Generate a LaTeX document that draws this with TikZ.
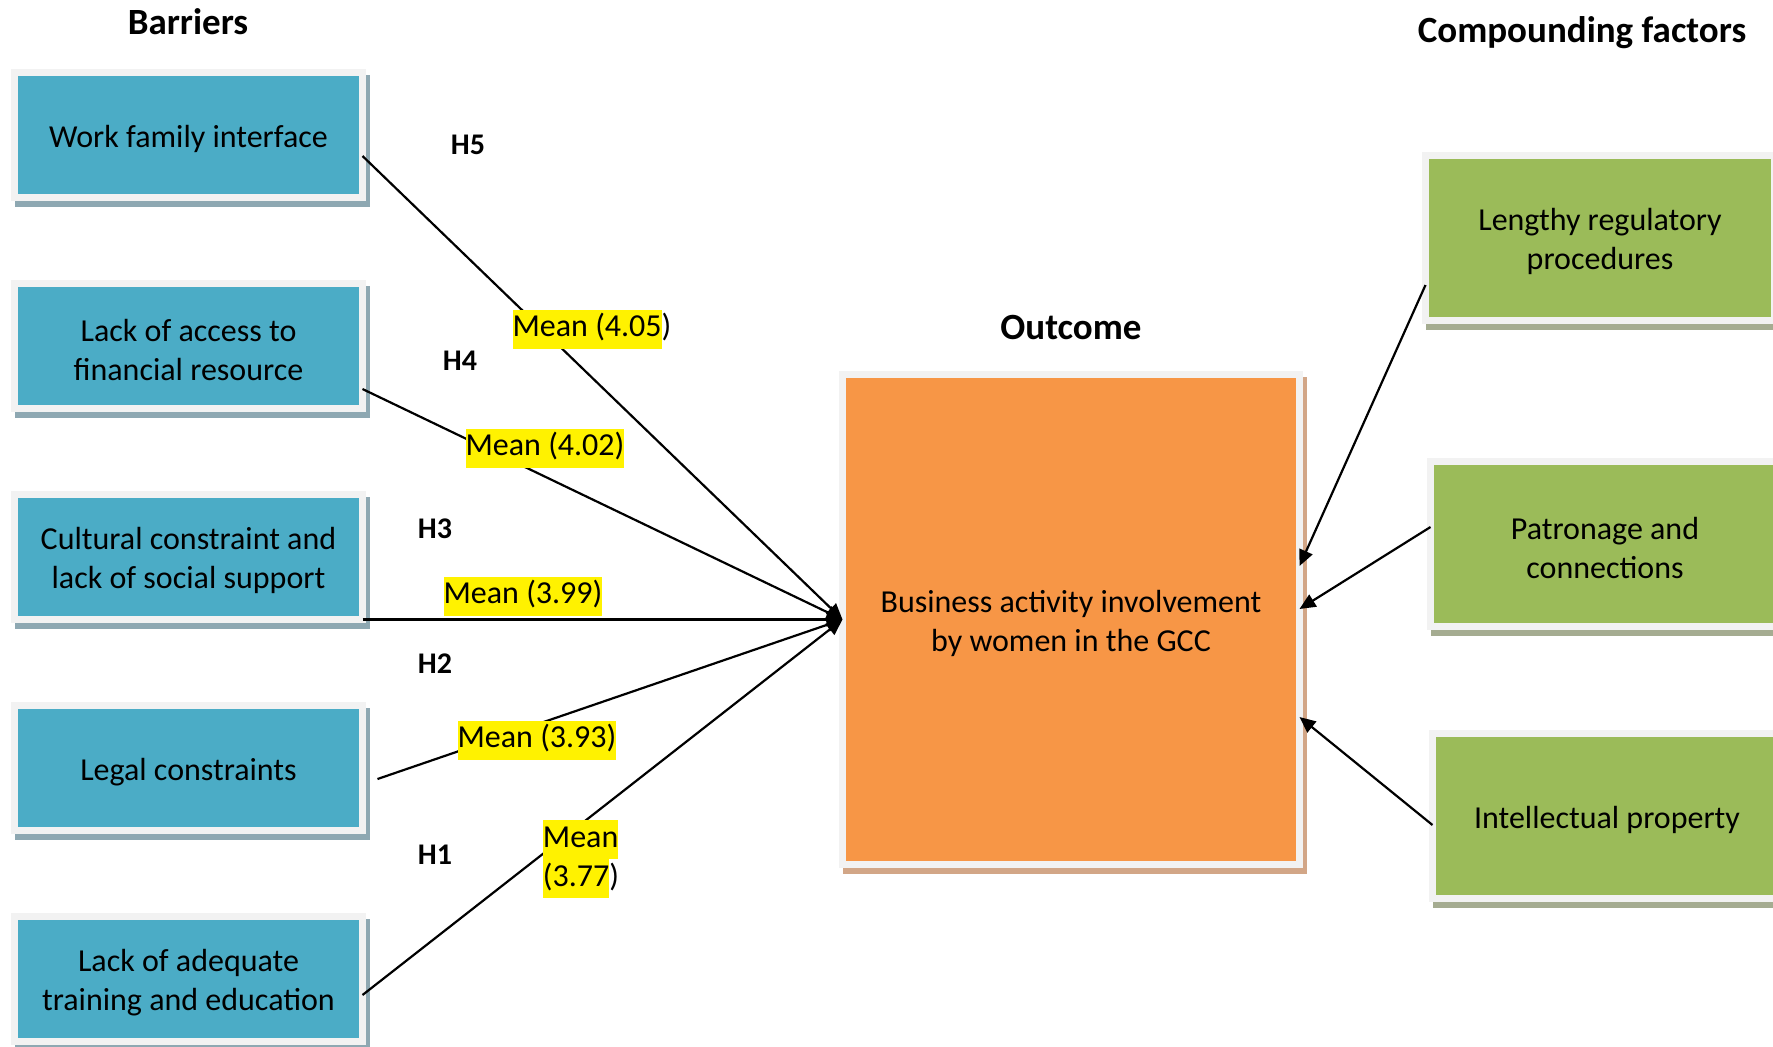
\documentclass[tikz,border=0pt]{standalone}
\usepackage{fontspec}
\setmainfont{Carlito}
\usetikzlibrary{arrows.meta,shadows}
\definecolor{barblue}{HTML}{4BACC6}
\definecolor{facgreen}{HTML}{9BBB59}
\definecolor{outorange}{HTML}{F79646}
\definecolor{framegray}{HTML}{F2F2F2}
\definecolor{blueshadow}{RGB}{142,168,178}
\definecolor{greenshadow}{RGB}{165,172,145}
\definecolor{orangeshadow}{RGB}{210,166,135}
\setlength{\fboxsep}{0pt}
\newcommand{\hlmean}[1]{\colorbox{yellow}{\strut #1}}

\begin{document}
\begin{tikzpicture}[x=0.5pt, y=-0.5pt,
    txt/.style={font=\fontsize{16}{19.5}\selectfont},
    hyp/.style={font=\fontsize{15}{18}\selectfont\bfseries},
    head/.style={font=\fontsize{18.5}{22}\selectfont\bfseries, anchor=base},
    oneline/.style={execute at begin node={\rule{0pt}{14.8pt}}},
    twoline/.style={execute at begin node={\rule{0pt}{34.3pt}}},
    framebox/.style={txt, draw=framegray, line width=3.5pt, outer sep=0pt, align=center,
      drop shadow={shadow xshift=2pt, shadow yshift=-3pt, opacity=1, fill=#1, draw=#1, line width=3.5pt}},
    barrier/.style={framebox=blueshadow, fill=barblue, minimum width=174pt, minimum height=62.5pt},
    factor/.style={framebox=greenshadow, fill=facgreen, minimum width=174.5pt, minimum height=82.5pt},
    mean/.style={txt, inner sep=0pt, align=left},
    arr/.style={-{Triangle[length=8pt,width=7pt]}, line width=1.1pt}]
  \useasboundingbox (0,0) rectangle (1773,1046);

  \foreach [count=\i] \t/\s in {Work family interface/oneline, Lack of access to\\financial resource/twoline,
      Cultural constraint and\\lack of social support/twoline, Legal constraints/oneline,
      Lack of adequate\\training and education/twoline} {
    \node[barrier, \s] (b\i) at (188.5, {135+211*(\i-1)}) {\t};
  }
  \node[factor, twoline] (f1) at (1600,238) {Lengthy regulatory\\procedures};
  \node[factor, twoline] (f2) at (1605,544) {Patronage and\\connections};
  \node[factor, oneline] (f3) at (1607,816) {Intellectual property};
  \node[framebox=orangeshadow, twoline, fill=outorange, minimum width=228.5pt, minimum height=245pt] (out)
    at (1071,619.5) {Business activity involvement\\by women in the GCC};

  \node[head] (hbar) at (188,34) {Barriers};
  \node[head] (hout) at (1071,339) {Outcome};
  \node[head] (hcomp) at (1582,42) {Compounding factors};

  \draw[arr] ([yshift=-10.5pt]b1.east) -- (out.west);
  \draw[arr] ([yshift=-21.5pt]b2.east) -- (out.west);
  \draw[arr] (b3.south east) -- (out.west);
  \draw[arr] ([xshift=7.5pt,yshift=-5.5pt]b4.east) -- (out.west);
  \draw[arr] ([yshift=-8pt]b5.east) -- (out.west);
  \draw[arr] ([yshift=-23.5pt]f1.west) -- ([yshift=26.75pt]out.east);
  \draw[arr] ([yshift=8.5pt]f2.west) -- ([yshift=5.25pt]out.east);
  \draw[arr] ([yshift=-4.5pt]f3.west) -- ([yshift=-48.75pt]out.east);

  \node[hyp] (h5) at (468,145) {H5};
  \node[hyp] (h4) at (460,361) {H4};
  \node[hyp] (h3) at (435,529) {H3};
  \node[hyp] (h2) at (435,664) {H2};
  \node[hyp] (h1) at (435,855) {H1};

  \node[mean] (m5) at (592,329) {\hlmean{Mean (4.05})};
  \node[mean] (m4) at (545,448) {\hlmean{Mean (4.02)}};
  \node[mean] (m3) at (523,596) {\hlmean{Mean (3.99)}};
  \node[mean] (m2) at (537,740) {\hlmean{Mean (3.93)}};
  \node[mean] (m1) at (581,859) {\hlmean{Mean}\\\hlmean{(3.77})};
\end{tikzpicture}
\end{document}
